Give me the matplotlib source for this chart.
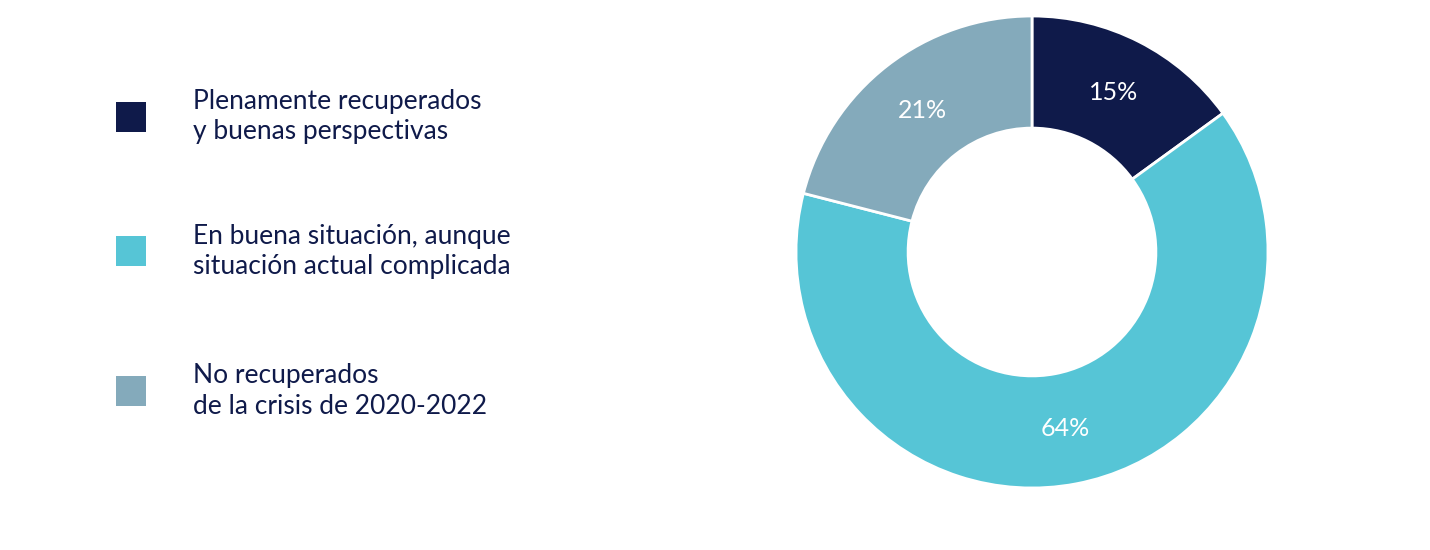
import matplotlib
matplotlib.use("Agg")
import matplotlib.pyplot as plt
from matplotlib.patches import Rectangle

labels = ["Plenamente recuperados\ny buenas perspectivas",
          "En buena situación, aunque\nsituación actual complicada",
          "No recuperados\nde la crisis de 2020-2022"]
values = [15, 64, 21]
colors = ["#0f1a4a", "#56c5d6", "#84aabb"]
navy = "#0f1a4a"

W, H = 1430, 550
fig = plt.figure(figsize=(14.3, 5.5), dpi=100)
fig.patch.set_facecolor("white")

cx, cy, r = 1032, 252, 236
ax = fig.add_axes([(cx - r) / W, (H - cy - r) / H, 2 * r / W, 2 * r / H])
wedges, texts, autotexts = ax.pie(values, colors=colors, startangle=90, counterclock=False,
       radius=1, wedgeprops=dict(width=0.475, edgecolor="white", linewidth=2),
       autopct="%d%%", pctdistance=0.76,
       textprops=dict(color="white", fontsize=18, family="Lato"))
ax.set_xlim(-1, 1); ax.set_ylim(-1, 1); ax.set_aspect("equal")
ax.axis("off")

ys = [117, 251, 391]
for lab, c, y in zip(labels, colors, ys):
    fig.patches.append(Rectangle(((116) / W, (H - y - 15) / H), 30 / W, 30 / H,
                                 transform=fig.transFigure, facecolor=c, edgecolor="none"))
    fig.text(193 / W, (H - y) / H, lab, ha="left", va="center", fontsize=19,
             color=navy, family="Lato", linespacing=1.25)

fig.savefig("out.png", dpi=100)
